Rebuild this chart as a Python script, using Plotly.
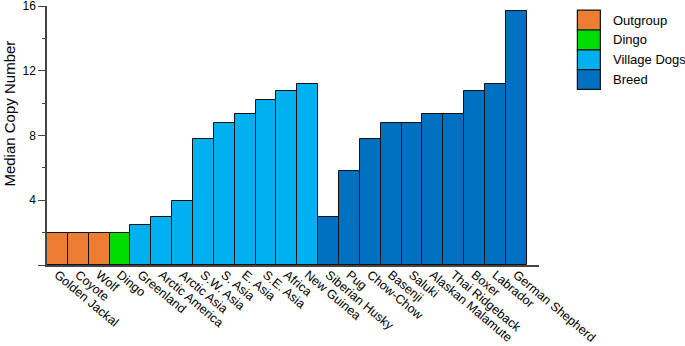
import plotly.graph_objects as go

categories = ["Golden Jackal", "Coyote", "Wolf", "Dingo", "Greenland", "Arctic America",
              "Arctic Asia", "S.W. Asia", "S. Asia", "E. Asia", "S.E. Asia", "Africa",
              "New Guinea", "Siberian Husky", "Pug", "Chow-Chow", "Basenji", "Saluki",
              "Alaskan Malamute", "Thai Ridgeback", "Boxer", "Labrador", "German Shepherd"]
values = [2.0, 2.0, 2.0, 2.0, 2.5, 2.95, 3.95, 7.8, 8.8, 9.3, 10.2, 10.75,
          11.2, 2.95, 5.8, 7.8, 8.8, 8.8, 9.3, 9.3, 10.75, 11.2, 15.7]
groups = ["Outgroup"] * 3 + ["Dingo"] + ["Village Dogs"] * 9 + ["Breed"] * 10
group_names = ["Outgroup", "Dingo", "Village Dogs", "Breed"]
group_colors = ["#ED7D31", "#00DC00", "#00B0F0", "#0070C0"]
y_tickvals = [0, 4, 8, 12, 16]
y_ticktext = ["", "4", "8", "12", "16"]
y_minor = [2, 6, 10, 14]

color_of = dict(zip(group_names, group_colors))
FONT = "Liberation Sans, Arial, sans-serif"

W, H = 685, 346
L, R, T, B = 46.7, 539.1, 5.8, 264.7

def px_x(x):
    return (x - L) / (R - L)

def px_y(y):
    return (B - y) / (B - T)

fig = go.Figure()
fig.add_trace(go.Bar(
    x=categories, y=values,
    marker=dict(color=[color_of[g] for g in groups], line=dict(color="#111111", width=1)),
    showlegend=False,
))

shapes = []
annotations = []
sw_x0, sw_x1, sw_top, sw_h = 577.5, 600.5, 10.0, 19.8
for i, (name, col) in enumerate(zip(group_names, group_colors)):
    y0 = sw_top + i * sw_h
    shapes.append(dict(type="rect", xref="paper", yref="paper",
                       x0=px_x(sw_x0), x1=px_x(sw_x1), y0=px_y(y0 + sw_h), y1=px_y(y0),
                       fillcolor=col, line=dict(color="#111111", width=1.2)))
    annotations.append(dict(xref="paper", yref="paper", x=px_x(611), y=px_y(y0 + sw_h / 2),
                            text=name, showarrow=False, xanchor="left", yanchor="middle",
                            font=dict(family=FONT, size=13, color="#000000")))

annotations.append(dict(xref="paper", yref="paper", x=px_x(9), y=px_y(113),
                        text="Median Copy Number", textangle=-90, showarrow=False,
                        xanchor="center", yanchor="middle", borderpad=0,
                        font=dict(family=FONT, size=15, color="#000000")))

fig.update_layout(
    template="none",
    width=W, height=H,
    margin=dict(l=L, r=W - R, t=T, b=H - B, pad=0, autoexpand=False),
    paper_bgcolor="white", plot_bgcolor="white",
    bargap=0,
    shapes=shapes, annotations=annotations,
    font=dict(family=FONT, color="#000000"),
)
fig.update_xaxes(
    type="category", range=[-0.5, 23.09], automargin=False,
    showline=True, linecolor="#444444", linewidth=1.5,
    ticks="", tickangle=40, tickfont=dict(family=FONT, size=12.5, color="#000000"),
    ticklabeloverflow="allow", ticklabelstandoff=-4,
    showgrid=False, zeroline=False,
)
fig.update_yaxes(
    range=[0, 16], tickmode="array", tickvals=y_tickvals, ticktext=y_ticktext, automargin=False,
    showline=True, linecolor="#444444", linewidth=1.5,
    ticks="outside", ticklen=7, tickwidth=1.2, tickcolor="#444444",
    minor=dict(tickmode="array", tickvals=y_minor, ticks="outside", ticklen=3, tickcolor="#444444"),
    tickfont=dict(family=FONT, size=12, color="#000000"),
    ticklabeloverflow="allow",
    showgrid=False, zeroline=False,
)

fig.write_html("out.html", config={"displayModeBar": False},
               post_script="document.body.style.margin='0';document.body.style.overflow='hidden';")
